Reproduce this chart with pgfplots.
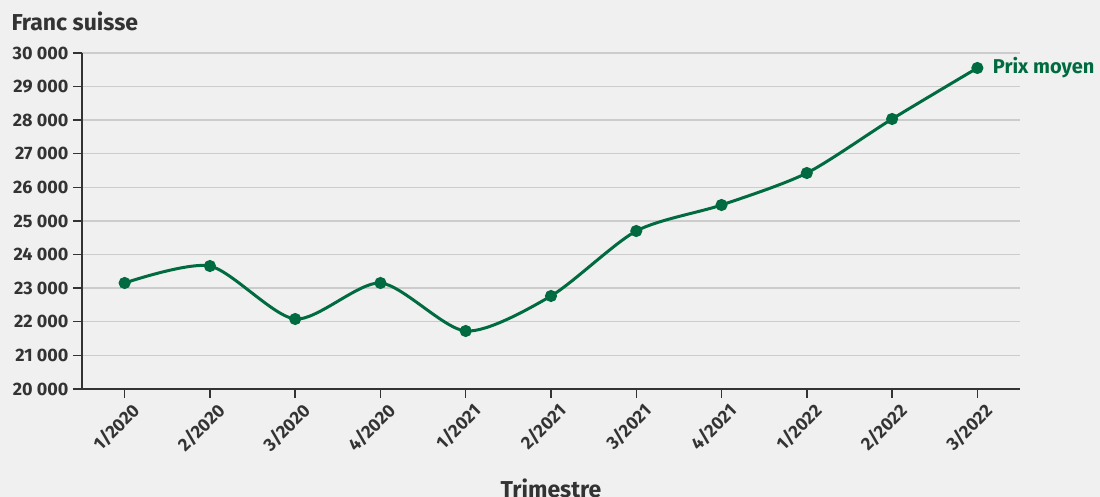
\documentclass[border=0pt]{standalone}
\usepackage{pgfplots}
\pgfplotsset{compat=1.18}
\usepackage{fontspec}
\setmainfont{Fira Sans}
\definecolor{bg}{HTML}{F0F0F0}
\definecolor{txt}{HTML}{333333}
\definecolor{grn}{HTML}{006B40}
\definecolor{grd}{HTML}{CCCCCC}
\begin{document}
\begin{tikzpicture}[x=1pt,y=1pt]
\path[use as bounding box, fill=bg] (-82,-108) rectangle (1018,389);
\node[anchor=west, text=txt, font=\fontsize{23}{26}\selectfont\bfseries] at (-74,368) {Franc suisse};
\begin{axis}[
  scale only axis, width=938pt, height=336pt,
  xmin=-0.5, xmax=10.5, ymin=20000, ymax=30000,
  axis lines=left, axis line style={txt, line width=1.6pt, -},
  xtick={0,...,10},
  xticklabels={1/2020,2/2020,3/2020,4/2020,1/2021,2/2021,3/2021,4/2021,1/2022,2/2022,3/2022},
  ytick={20000,21000,...,30000},
  tick style={txt, line width=1.4pt},
  tick align=outside, major tick length=9pt,
  ymajorgrids, grid style={grd, line width=1.4pt},
  /pgf/number format/assume math mode=true,
  /pgf/number format/1000 sep={\ },
  scaled y ticks=false,
  ticklabel style={text=txt, font=\fontsize{18}{21}\selectfont\bfseries},
  yticklabel style={xshift=-1pt},
  xticklabel style={rotate=45, anchor=north east, xshift=5pt, yshift=-3pt},
  xlabel={Trimestre}, xlabel style={text=txt, font=\fontsize{23}{26}\selectfont\bfseries, at={(axis description cs:0.5,0)}, anchor=center, yshift=-99pt},
  clip=false,
]
\addplot[grn, line width=3pt, smooth, tension=0.45, mark=*, mark size=4.5pt, mark options={solid}] coordinates {
(0,23155) (1,23660) (2,22083) (3,23155) (4,21726) (5,22768) (6,24702) (7,25476) (8,26428) (9,28036) (10,29554)};
\node[anchor=west, text=grn, font=\fontsize{20}{23}\selectfont\bfseries] at (axis cs:10,29554) [xshift=12pt] {Prix moyen};
\end{axis}
\end{tikzpicture}
\end{document}
